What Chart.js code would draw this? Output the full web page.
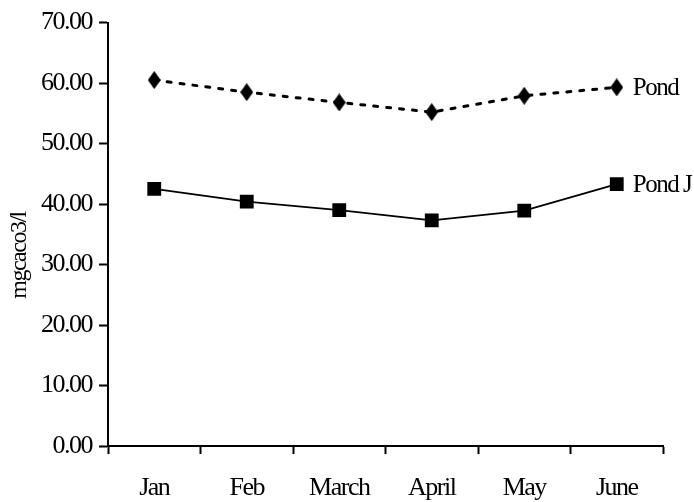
<!DOCTYPE html>
<html>
<head>
<meta charset="utf-8">
<script src="https://cdn.jsdelivr.net/npm/chart.js@4/dist/chart.umd.min.js"></script>
<style>
  html, body { margin: 0; padding: 0; background: #fff; }
  #wrap { width: 694px; height: 502px; }
</style>
</head>
<body>
<div id="wrap"><canvas id="c" width="694" height="502"></canvas></div>
<script>
const months = ['Jan', 'Feb', 'March', 'April', 'May', 'June'];
const pondValues = [60.5, 58.5, 56.8, 55.2, 57.9, 59.3];
const pondJValues = [42.5, 40.4, 39.0, 37.3, 38.9, 43.3];
const seriesNames = ['Pond', 'Pond J'];
const yTicks = [0, 10, 20, 30, 40, 50, 60, 70];
const yTitle = 'mgcaco3/l';

const FONT = '"Liberation Serif", "DejaVu Serif", serif';

// tall diamond marker
function diamond(w, h) {
  const c = document.createElement('canvas');
  c.width = w; c.height = h;
  const g = c.getContext('2d');
  g.fillStyle = '#000';
  g.beginPath();
  g.moveTo(w / 2, 0);
  g.lineTo(w, h / 2);
  g.lineTo(w / 2, h);
  g.lineTo(0, h / 2);
  g.closePath();
  g.fill();
  return c;
}

// series names next to the last point of each line, plus the rotated y title
const annotations = {
  id: 'annotations',
  afterDatasetsDraw(chart) {
    const ctx = chart.ctx;
    ctx.save();
    ctx.fillStyle = '#000';
    ctx.font = '25px ' + FONT;
    ctx.textBaseline = 'middle';
    ctx.textAlign = 'left';
    chart.data.datasets.forEach((ds, i) => {
      const meta = chart.getDatasetMeta(i);
      const pt = meta.data[meta.data.length - 1];
      ctx.fillText(seriesNames[i], pt.x + 16, pt.y + 1);
    });

    const y = chart.scales.y;
    ctx.translate(20, y.getPixelForValue(31.5));
    ctx.rotate(-Math.PI / 2);
    ctx.textAlign = 'center';
    ctx.font = '24px ' + FONT;
    ctx.fillText(yTitle, 0, 0);
    ctx.restore();
  }
};

// condensed lettering for all text
const tight = {
  id: 'tight',
  beforeDraw(chart) { chart.ctx.letterSpacing = '-1.5px'; }
};

new Chart(document.getElementById('c'), {
  type: 'line',
  data: {
    labels: months,
    datasets: [
      {
        label: seriesNames[0],
        data: pondValues,
        borderColor: '#000',
        backgroundColor: '#000',
        borderWidth: 3,
        borderDash: [4, 9],
        borderCapStyle: 'round',
        pointStyle: diamond(13, 18),
        pointRadius: 9,
        tension: 0
      },
      {
        label: seriesNames[1],
        data: pondJValues,
        borderColor: '#000',
        backgroundColor: '#000',
        borderWidth: 1.8,
        pointStyle: 'rect',
        pointRadius: 8.5,
        tension: 0
      }
    ]
  },
  options: {
    responsive: false,
    animation: false,
    devicePixelRatio: 1,
    layout: { padding: { top: 5, right: 31, bottom: 0, left: 0 } },
    plugins: {
      legend: { display: false },
      tooltip: { enabled: false }
    },
    scales: {
      x: {
        offset: true,
        afterFit(axis) { axis.height = 56; },
        border: { color: '#000', width: 2 },
        grid: { display: true, drawOnChartArea: false, offset: true, tickLength: 8, tickColor: '#000', tickWidth: 2 },
        ticks: { color: '#000', font: { family: FONT, size: 26 }, padding: 19, maxRotation: 0 }
      },
      y: {
        min: 0,
        max: 70,
        afterBuildTicks(axis) { axis.ticks = yTicks.map(v => ({ value: v })); },
        afterFit(axis) { axis.width = 108; },
        border: { color: '#000', width: 2 },
        grid: { display: true, drawOnChartArea: false, tickLength: 9, tickColor: '#000', tickWidth: 2 },
        ticks: {
          color: '#000',
          font: { family: FONT, size: 26 },
          padding: 7,
          callback: v => Number(v).toFixed(2)
        }
      }
    }
  },
  plugins: [tight, annotations]
});
</script>
</body>
</html>
